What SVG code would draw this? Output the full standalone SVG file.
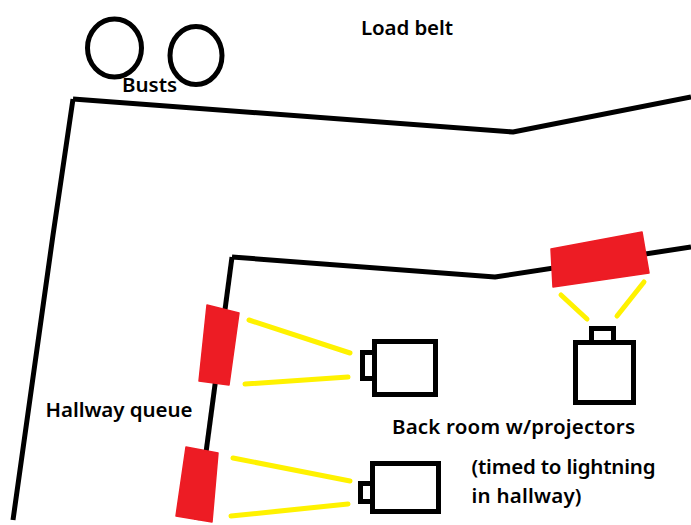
<svg xmlns="http://www.w3.org/2000/svg" width="691" height="525" viewBox="0 0 691 525">
<style>
.wall{fill:none;stroke:#000;stroke-width:5;stroke-linejoin:round}
.ray{fill:none;stroke:#fff200;stroke-width:5;stroke-linecap:round}
.box{fill:#fff;stroke:#000;stroke-width:5}
.red{fill:#ed1c24;stroke:#ed1c24;stroke-width:1.5;stroke-linejoin:round}
.bust{fill:none;stroke:#000;stroke-width:5}
text{font-family:"Noto Sans","Open Sans","Liberation Sans",sans-serif;font-size:20.500px;font-weight:600;fill:#000}
</style>
<rect width="691" height="525" fill="#fff"/>
<g id="connectors">
<path class="wall" d="M73 99L513 132L691 97"/>
<path class="wall" d="M73 99L53 235L13 520"/>
<path class="wall" d="M232 257L495 277L691 247"/>
<path class="wall" d="M232 257L197 520"/>
</g>
<g id="bust-1"><ellipse class="bust" cx="114.500" cy="48" rx="27" ry="29"/></g>
<g id="bust-2"><ellipse class="bust" cx="196" cy="55.500" rx="26" ry="29"/></g>
<g id="label-busts"><text x="122" y="92">Busts</text></g>
<g id="label-load"><text x="361" y="35" textLength="92">Load belt</text></g>
<g id="label-hallway"><text x="45.500" y="417" textLength="147">Hallway queue</text></g>
<g id="label-backroom"><text x="392" y="434" textLength="243">Back room w/projectors</text></g>
<g id="label-timed"><text x="471.500" y="474" textLength="184">(timed to lightning</text><text x="471.500" y="503" textLength="110">in hallway)</text></g>
<g id="projector-1">
<polygon class="red" points="207,305 239,313 229,385 199,381"/>
<path class="ray" d="M249 320L350 353M245 384L348 377"/>
<rect class="box" x="362.500" y="352.500" width="12" height="26"/>
<rect class="box" x="374.500" y="341.500" width="61" height="53"/>
</g>
<g id="projector-2">
<polygon class="red" points="186,447 218,453 212,522 176,516"/>
<path class="ray" d="M233 458L350 481M231 516L348 504"/>
<rect class="box" x="360.500" y="483.500" width="12" height="18"/>
<rect class="box" x="372.500" y="463.500" width="66" height="48"/>
</g>
<g id="projector-3">
<polygon class="red" points="551,249 642,232 649,273 553,287"/>
<path class="ray" d="M561 295L587 319M617 316L644 282"/>
<rect class="box" x="591.500" y="328.500" width="22" height="14"/>
<rect class="box" x="575.500" y="342.500" width="58" height="60"/>
</g>
</svg>
